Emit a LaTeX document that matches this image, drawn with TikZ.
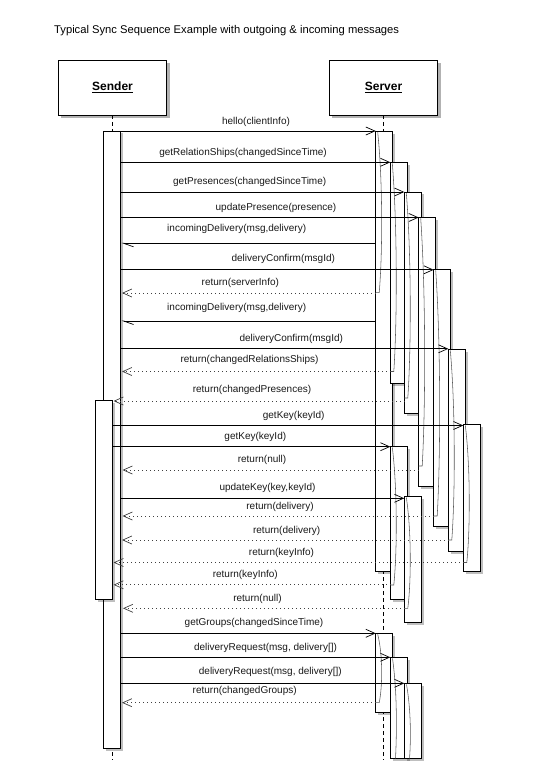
\documentclass[tikz,border=0pt]{standalone}
\usepackage{fontspec}
\setmainfont{Liberation Sans}
\usetikzlibrary{arrows.meta,shadows}
\tikzset{
  boxshape/.style={draw=black, line width=0.9pt, fill=white, inner sep=0pt,
    drop shadow={shadow xshift=3pt, shadow yshift=-3pt, opacity=0.3, fill=black}},
  actbar/.style={draw=black, line width=0.8pt, fill=white,
    drop shadow={shadow xshift=2.5pt, shadow yshift=-2.5pt, opacity=0.25, fill=black}},
  innercurve/.style={draw=black!65, line width=0.55pt},
  lifeline/.style={draw=black, line width=0.7pt, dash pattern=on 4pt off 3pt},
  callmsg/.style={draw=black, line width=0.8pt, -{Straight Barb[length=9pt,width=8pt,line width=0.7pt]}},
  inmsg/.style={draw=black, line width=0.8pt, -{Straight Barb[harpoon,length=10pt,width=7pt,line width=0.7pt]}},
  retmsg/.style={draw=black!75, line width=0.8pt, dash pattern=on 0.8pt off 3.2pt, -{Straight Barb[length=9pt,width=8pt,line width=0.7pt]}},
  lbl/.style={font=\fontsize{10}{12}\selectfont, inner sep=0pt, text=black!90},
}
\newcommand\srvbar[4]{%
  \path[actbar] ({#1},{#2}) rectangle ({#1+16.8},{#3});
  \draw[innercurve] ({#1+2},{#2+1}) .. controls ({#1+7},{#2+0.3*(#4-#2)}) and ({#1+7},{#2+0.75*(#4-#2)}) .. ({#1+3.5},{#4}) -- ({#1},{#4});
}
\newcommand\seqmsg[8]{%
  \coordinate (#1a) at ({#3},{#5});
  \coordinate (#1b) at ({#4},{#5});
  \draw[#2] (#1a) -- (#1b);
  \node[lbl] (#1l) at ({#6},{#7}) {#8};
}
\begin{document}
\begin{tikzpicture}[x=1pt,y=-1pt]
\useasboundingbox[fill=white] (0,0) rectangle (559,783);
% title
\node[anchor=west, inner sep=0pt, font=\fontsize{11.2}{13}\selectfont] (title) at (54,31) {Typical Sync Sequence Example with outgoing \& incoming messages};
% lifelines
\coordinate (sendend) at (112.2,760);
\coordinate (servend) at (383.5,760);
\coordinate (sendtop) at (112.2,115);
\coordinate (servtop) at (383.5,115);
\draw[lifeline] (sendtop) -- (sendend);
\draw[lifeline] (servtop) -- (servend);
% participant boxes
\node[boxshape, minimum width=108.4pt, minimum height=55pt, font=\fontsize{12}{14}\selectfont\bfseries] (sender) at (112.5,87.5) {\underline{Sender}};
\node[boxshape, minimum width=108.4pt, minimum height=55pt, font=\fontsize{12}{14}\selectfont\bfseries] (server) at (383.5,87.5) {\underline{Server}};
% sender activation bars
\path[actbar] (103.3,131) rectangle (120.7,748.3);
\path[actbar] (95,400) rectangle (112.7,599.3);
% server activation bars
\srvbar{375.7}{131.3}{571.7}{292.7}
\srvbar{390.3}{162.3}{383.3}{371.5}
\srvbar{404.3}{192}{413.3}{398}
\srvbar{418.7}{217.3}{486.3}{466}
\srvbar{433.7}{269.3}{526}{516}
\srvbar{448.3}{349.3}{551.3}{540}
\srvbar{463.3}{424.3}{571.3}{562.5}
\srvbar{390.3}{446.3}{599.3}{585}
\srvbar{404.3}{496.3}{622.3}{608.3}
\srvbar{375.7}{633.3}{712}{702.7}
\path[actbar] (390.3,657.3) rectangle (407.1,758.3);
\draw[innercurve] (392.5,658.5) .. controls (397,690) and (397,730) .. (395.5,758.3);
\path[actbar] (404.3,683.3) rectangle (421.1,758.3);
\draw[innercurve] (406.5,684.5) .. controls (411,710) and (411,740) .. (409.5,758.3);
% messages
\seqmsg{m1}{callmsg}{120.7}{375.7}{131}{256}{121.7}{hello(clientInfo)}
\seqmsg{m2}{callmsg}{120.7}{390.3}{162.3}{243}{152.7}{getRelationShips(changedSinceTime)}
\seqmsg{m3}{callmsg}{120.7}{404.3}{192}{249.7}{181.7}{getPresences(changedSinceTime)}
\seqmsg{m4}{callmsg}{120.7}{418.7}{217.5}{276}{208.3}{updatePresence(presence)}
\seqmsg{m5}{inmsg}{375.7}{121.5}{243.3}{236.7}{229.3}{incomingDelivery(msg,delivery)}
\seqmsg{m6}{callmsg}{120.7}{433.7}{269.8}{283.3}{259.3}{deliveryConfirm(msgId)}
\seqmsg{m7}{retmsg}{375.7}{122}{293}{240.3}{282.7}{return(serverInfo)}
\seqmsg{m8}{inmsg}{375.7}{121.5}{321}{236.7}{307.7}{incomingDelivery(msg,delivery)}
\seqmsg{m9}{callmsg}{120.7}{448.3}{348.8}{291.3}{339}{deliveryConfirm(msgId)}
\seqmsg{m10}{retmsg}{390.3}{122}{371.5}{249.5}{360}{return(changedRelationsShips)}
\seqmsg{m11}{retmsg}{404.3}{113.5}{401}{252}{390}{return(changedPresences)}
\seqmsg{m12}{callmsg}{112.7}{463.3}{425.5}{293.7}{415.7}{getKey(keyId)}
\seqmsg{m13}{callmsg}{112.7}{390.3}{446.7}{255.3}{436.7}{getKey(keyId)}
\seqmsg{m14}{retmsg}{418.7}{122.5}{470}{262}{460}{return(null)}
\seqmsg{m15}{callmsg}{120.7}{404.3}{498.3}{267.5}{487.7}{updateKey(key,keyId)}
\seqmsg{m16}{retmsg}{433.7}{122.5}{516}{280}{506.7}{return(delivery)}
\seqmsg{m17}{retmsg}{448.3}{122}{540}{286.7}{530.7}{return(delivery)}
\seqmsg{m18}{retmsg}{463.3}{113.5}{562.5}{281.5}{552.7}{return(keyInfo)}
\seqmsg{m19}{retmsg}{390.3}{113.5}{584.8}{245.3}{575}{return(keyInfo)}
\seqmsg{m20}{retmsg}{404.3}{123}{608.3}{257.5}{599}{return(null)}
\seqmsg{m21}{callmsg}{120.7}{375.7}{633.3}{254}{623}{getGroups(changedSinceTime)}
\seqmsg{m22}{callmsg}{120.7}{390.3}{657.3}{265.5}{647.7}{deliveryRequest(msg, delivery[])}
\seqmsg{m23}{callmsg}{120.7}{404.3}{683.3}{270.3}{672.3}{deliveryRequest(msg, delivery[])}
\seqmsg{m24}{retmsg}{375.7}{122}{702.7}{244.7}{691}{return(changedGroups)}
\end{tikzpicture}
\end{document}
